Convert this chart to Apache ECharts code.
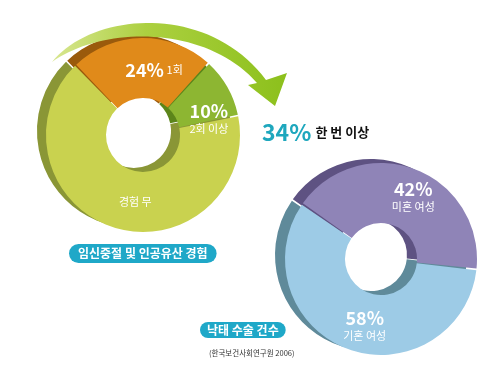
<!DOCTYPE html>
<html><head><meta charset="utf-8">
<script src="https://cdn.jsdelivr.net/npm/echarts@6/dist/echarts.min.js"></script>
<style>html,body{margin:0;padding:0;background:#fff}#c{width:480px;height:373px}</style>
</head><body><div id="c"></div>
<script>
const leftCats = ['1회', '2회 이상', '경험 무'];
const leftVals = [24, 10, 66];
const rightCats = ['미혼 여성', '기혼 여성'];
const rightVals = [42, 58];
const summaryVal = 34;
const summaryText = '한 번 이상';
const leftTitle = '임신중절 및 인공유산 경험';
const rightTitle = '낙태 수술 건수';
const sourceText = '(한국보건사회연구원 2006)';

const FONT = 'Noto Sans CJK KR';
const leftFace = ['#e08a1a', '#8db632', '#c9d24f'];
const leftBack = ['#9a5a0c', '#5c851a', '#8a9636'];
const rightFace = ['#8f84b7', '#9dcbe6'];
const rightBack = ['#5e5282', '#5f8a9a'];
const leftLabelShift = [[12, 5], [5, 18], [13, 0]];
const rightLabelShift = [[8, 2], [8, 2]];

function mk(cats, vals, colors) {
  return cats.map((c, i) => ({ name: c, value: vals[i], itemStyle: { color: colors[i] } }));
}
const rich = {
  p: { fontSize: 18, fontWeight: 'bold', color: '#fff', fontFamily: FONT, lineHeight: 20 },
  n: { fontSize: 11, color: '#fff', fontFamily: FONT, lineHeight: 14 }
};
function leftFmt(p) {
  if (p.dataIndex === 0) return '{p|' + p.value + '%} {n|' + p.name + '}';
  if (p.dataIndex === 1) return '{p|' + p.value + '%}\n{n|' + p.name + '}';
  return '{n|' + p.name + '}';
}
function rightFmt(p) { return '{p|' + p.value + '%}\n{n|' + p.name + '}'; }

// decorative curved arrow outline (cubic bezier sampled)
function bez(p0, p1, p2, p3, n) {
  const out = [];
  for (let i = 0; i <= n; i++) {
    const t = i / n, u = 1 - t;
    out.push([
      u*u*u*p0[0] + 3*u*u*t*p1[0] + 3*u*t*t*p2[0] + t*t*t*p3[0],
      u*u*u*p0[1] + 3*u*u*t*p1[1] + 3*u*t*t*p2[1] + t*t*t*p3[1]
    ]);
  }
  return out;
}
const arrowPts = [].concat(
  bez([52, 62], [92, 12], [208, 2], [266, 80], 40),
  [[287, 73], [275, 106], [248, 85]],
  bez([257, 83], [205, 24], [102, 26], [52, 62], 40)
);

const chart = echarts.init(document.getElementById('c'), null, { renderer: 'canvas' });
chart.setOption({
  animation: false,
  textStyle: { fontFamily: FONT },
  title: [
    { text: leftTitle, left: 69, top: 244, backgroundColor: '#1fa8c8', borderRadius: 10, padding: [3, 9, 3, 9],
      textStyle: { color: '#fff', fontSize: 12, fontWeight: 'bold', fontFamily: FONT, lineHeight: 13 } },
    { text: rightTitle, left: 200, top: 322, backgroundColor: '#1fa8c8', borderRadius: 9, padding: [2, 7, 2, 7],
      textStyle: { color: '#fff', fontSize: 12, fontWeight: 'bold', fontFamily: FONT, lineHeight: 12 } },
    { text: sourceText, left: 204, top: 344,
      textStyle: { color: '#333', fontSize: 7.5, fontWeight: 'normal', fontFamily: FONT } },
    { text: '{a|' + summaryVal + '%} {b|' + summaryText + '}', left: 257, top: 116,
      textStyle: { rich: {
        a: { color: '#1ea7bd', fontSize: 23, fontWeight: 'bold', fontFamily: FONT },
        b: { color: '#111', fontSize: 13, fontFamily: FONT }
      } } }
  ],
  graphic: [
    { type: 'polygon', z: 100,
      shape: { points: arrowPts },
      style: { fill: new echarts.graphic.LinearGradient(0, 0, 1, 0, [
        { offset: 0, color: '#d8e690' }, { offset: 0.4, color: '#acd040' }, { offset: 1, color: '#8cc01c' }]) } }
  ],
  series: [
    { type: 'pie', silent: true, center: [134, 131], radius: [37, 97], startAngle: 134, padAngle: 1,
      clockwise: true, label: { show: false }, labelLine: { show: false },
      data: mk(leftCats, leftVals, leftBack) },
    { type: 'pie', silent: true, center: [143, 135], radius: [37, 97], startAngle: 134, padAngle: 1,
      clockwise: true, labelLine: { show: false },
      label: { show: true, position: 'inside', formatter: leftFmt, rich: rich, align: 'center' },
      labelLayout: p => ({ dx: leftLabelShift[p.dataIndex][0], dy: leftLabelShift[p.dataIndex][1] }),
      data: mk(leftCats, leftVals, leftFace) },
    { type: 'pie', silent: true, center: [371, 255], radius: [36, 96], startAngle: 145, padAngle: 1,
      clockwise: true, label: { show: false }, labelLine: { show: false },
      data: mk(rightCats, rightVals, rightBack) },
    { type: 'pie', silent: true, center: [381, 259], radius: [36, 96], startAngle: 145, padAngle: 1,
      clockwise: true, labelLine: { show: false },
      label: { show: true, position: 'inside', formatter: rightFmt, rich: rich, align: 'center' },
      labelLayout: p => ({ dx: rightLabelShift[p.dataIndex][0], dy: rightLabelShift[p.dataIndex][1] }),
      data: mk(rightCats, rightVals, rightFace) }
  ]
});
</script></body></html>
